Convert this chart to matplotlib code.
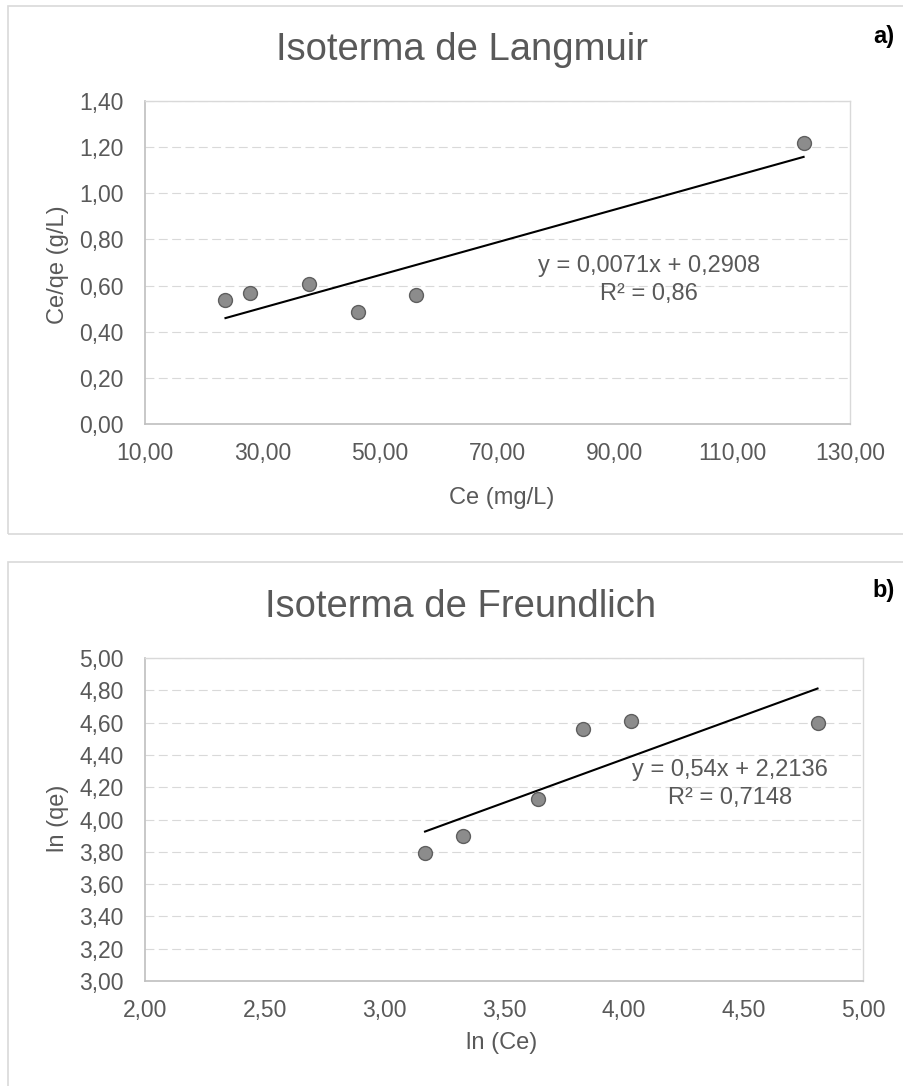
import numpy as np
import matplotlib
matplotlib.use("Agg")
import matplotlib.pyplot as plt
from matplotlib.patches import Rectangle
from matplotlib.ticker import FuncFormatter

plt.rcParams['font.family'] = ['Liberation Sans', 'DejaVu Sans']

# Langmuir data
langmuir_ce = [23.7, 27.9, 37.9, 46.3, 56.2, 122.1]
langmuir_ce_qe = [0.536, 0.567, 0.607, 0.484, 0.559, 1.219]
langmuir_fit = [0.0071, 0.2908]
langmuir_r2 = "0,86"
langmuir_xticks = [10, 30, 50, 70, 90, 110, 130]
langmuir_yticks = [0.0, 0.2, 0.4, 0.6, 0.8, 1.0, 1.2, 1.4]

# Freundlich data
freundlich_ln_ce = [3.17, 3.33, 3.64, 3.83, 4.03, 4.81]
freundlich_ln_qe = [3.79, 3.90, 4.13, 4.56, 4.61, 4.60]
freundlich_fit = [0.54, 2.2136]
freundlich_r2 = "0,7148"
freundlich_xticks = [2.0, 2.5, 3.0, 3.5, 4.0, 4.5, 5.0]
freundlich_yticks = [3.0, 3.2, 3.4, 3.6, 3.8, 4.0, 4.2, 4.4, 4.6, 4.8, 5.0]

W, H = 904, 1086
TEXT = "#595959"


def fx(px):
    return px / W


def fy(py):
    return 1 - py / H


def comma(v, pos):
    return f"{v:.2f}".replace(".", ",")


def panel(fig, rect, x, y, fit, xticks, yticks):
    ax = fig.add_axes(rect)
    ax.set_xticks(xticks)
    ax.set_yticks(yticks)
    ax.set_xlim(xticks[0], xticks[-1])
    ax.set_ylim(yticks[0], yticks[-1])
    ax.xaxis.set_major_formatter(FuncFormatter(comma))
    ax.yaxis.set_major_formatter(FuncFormatter(comma))
    ax.tick_params(length=0, labelsize=16.5, labelcolor=TEXT)
    ax.tick_params(axis='x', pad=13)
    ax.tick_params(axis='y', pad=15.5)
    ax.grid(axis='y', color='#D9D9D9', linewidth=0.8, linestyle=(0, (8, 4)))
    ax.set_axisbelow(True)
    for s in ['top', 'right']:
        ax.spines[s].set_color('#D9D9D9')
        ax.spines[s].set_linewidth(1.0)
    for s in ['left', 'bottom']:
        ax.spines[s].set_color('#BFBFBF')
        ax.spines[s].set_linewidth(1.2)

    xs = np.array([min(x), max(x)])
    ax.plot(xs, fit[0] * xs + fit[1], color='black', linewidth=1.5, zorder=2)
    ax.plot(x, y, 'o', markersize=10, markerfacecolor='#8C8C8C',
            markeredgecolor='#5F5F5F', markeredgewidth=1.0, zorder=3)
    return ax


def main():
    fig = plt.figure(figsize=(W / 100, H / 100), dpi=100)

    # panel frames (they run off the right / bottom edge)
    fig.patches.append(Rectangle((fx(8), fy(534)), 2, fy(6) - fy(534),
                                 transform=fig.transFigure, fill=False,
                                 edgecolor='#D9D9D9', linewidth=1.2))
    fig.patches.append(Rectangle((fx(8), fy(562) - 2), 2, 2,
                                 transform=fig.transFigure, fill=False,
                                 edgecolor='#D9D9D9', linewidth=1.2))

    # a) Langmuir
    panel(fig, [fx(145), fy(424), fx(850) - fx(145), fy(101) - fy(424)],
          langmuir_ce, langmuir_ce_qe, langmuir_fit,
          langmuir_xticks, langmuir_yticks)
    fig.text(fx(462), fy(60), "Isoterma de Langmuir", fontsize=27.5,
             color=TEXT, ha='center', va='baseline')
    fig.text(fx(884), fy(37), "a)", fontsize=17, fontweight='bold',
             color='black', ha='center', va='center')
    fig.text(fx(502), fy(498), "Ce (mg/L)", fontsize=17, color=TEXT,
             ha='center', va='center')
    fig.text(fx(58), fy(265), "Ce/qe (g/L)", fontsize=17, color=TEXT,
             ha='center', va='center', rotation=90)
    eq = f"y = {langmuir_fit[0]:.4f}x + {langmuir_fit[1]:.4f}".replace(".", ",")
    fig.text(fx(649), fy(272), eq, fontsize=17, color=TEXT,
             ha='center', va='baseline')
    fig.text(fx(649), fy(300), f"R² = {langmuir_r2}", fontsize=17,
             color=TEXT, ha='center', va='baseline')

    # b) Freundlich
    panel(fig, [fx(145), fy(981), fx(863) - fx(145), fy(658) - fy(981)],
          freundlich_ln_ce, freundlich_ln_qe, freundlich_fit,
          freundlich_xticks, freundlich_yticks)
    fig.text(fx(461), fy(617), "Isoterma de Freundlich", fontsize=27.5,
             color=TEXT, ha='center', va='baseline')
    fig.text(fx(884), fy(590), "b)", fontsize=17, fontweight='bold',
             color='black', ha='center', va='center')
    fig.text(fx(502), fy(1043), "ln (Ce)", fontsize=17, color=TEXT,
             ha='center', va='center')
    fig.text(fx(58), fy(818), "ln (qe)", fontsize=17, color=TEXT,
             ha='center', va='center', rotation=90)
    eq = f"y = {freundlich_fit[0]:.2f}x + {freundlich_fit[1]:.4f}".replace(".", ",")
    fig.text(fx(730), fy(776), eq, fontsize=17, color=TEXT,
             ha='center', va='baseline')
    fig.text(fx(730), fy(804), f"R² = {freundlich_r2}", fontsize=17,
             color=TEXT, ha='center', va='baseline')

    fig.savefig("out.png", dpi=100)


if __name__ == '__main__':
    main()
